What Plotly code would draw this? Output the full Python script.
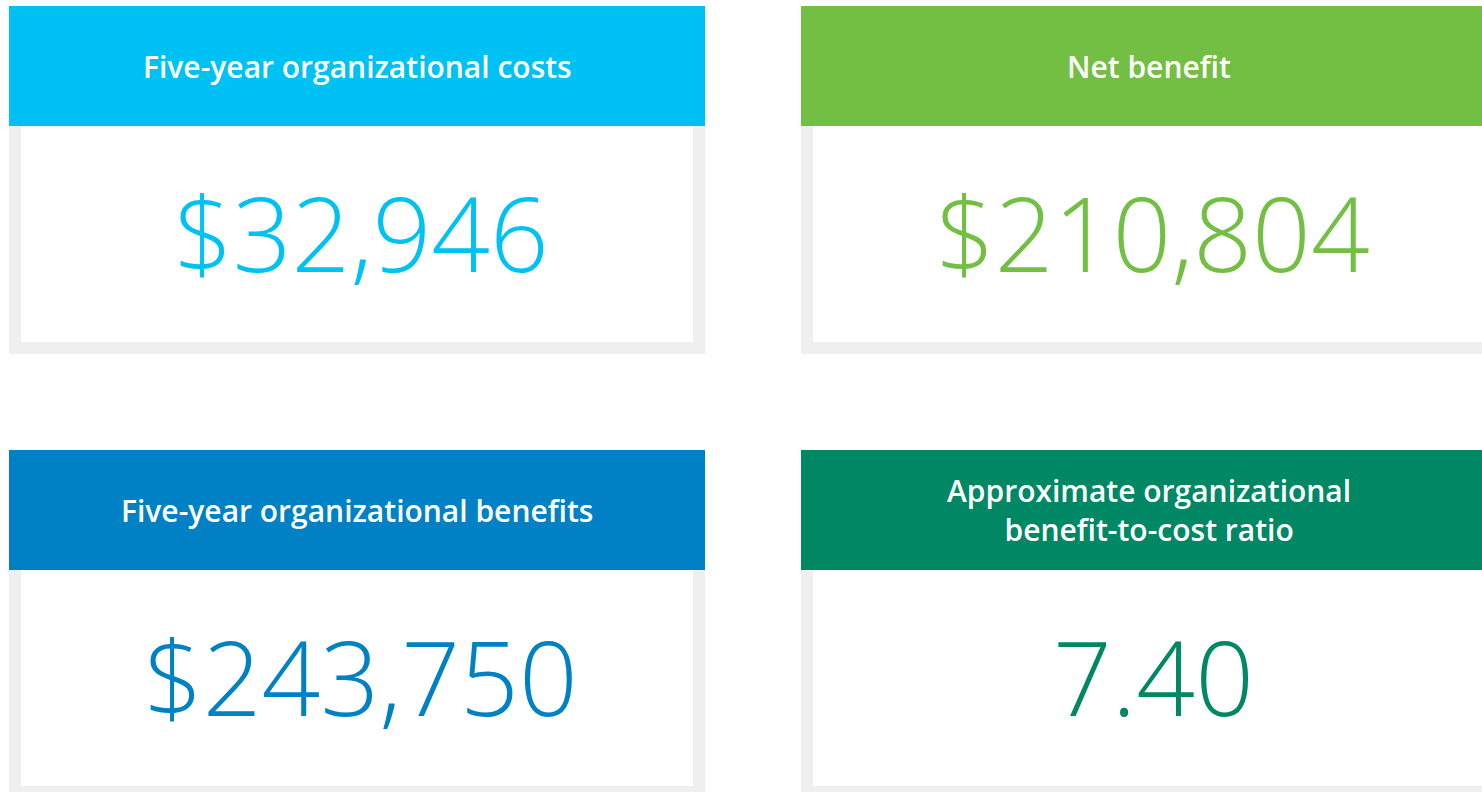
import plotly.graph_objects as go

# ---- data ----
titles = ["Five-year organizational costs", "Net benefit",
          "Five-year organizational benefits", "Approximate organizational<br>benefit-to-cost ratio"]
values = ["$32,946", "$210,804", "$243,750", "7.40"]
colors = ["#00C1F3", "#72BF44", "#0081C6", "#008865"]

W, H = 1482, 792
card_x = [9, 801, 9, 801]
card_y = [6, 6, 450, 450]
card_w, head_h, card_h, border = 696, 120, 348, 12
gray = "#EFEFEF"

fig = go.Figure()
shapes, annos = [], []
for i in range(4):
    x0, y0 = card_x[i], card_y[i]
    x1 = x0 + card_w
    yh = y0 + head_h
    yb = y0 + card_h
    shapes.append(dict(type="rect", x0=x0, x1=x1, y0=yh, y1=yb, fillcolor=gray, line_width=0, layer="below"))
    shapes.append(dict(type="rect", x0=x0 + border, x1=x1 - border, y0=yh, y1=yb - border,
                       fillcolor="white", line_width=0, layer="below"))
    shapes.append(dict(type="rect", x0=x0, x1=x1, y0=y0, y1=yh, fillcolor=colors[i], line_width=0, layer="below"))
    annos.append(dict(x=(x0 + x1) / 2, y=(y0 + yh) / 2, text=titles[i], showarrow=False,
                      xanchor="center", yanchor="middle", align="center",
                      font=dict(family="Open Sans", size=30, color="white", weight=600)))
    annos.append(dict(x=(x0 + x1) / 2 + 4, y=(yh + yb - border) / 2 - 2, text=values[i], showarrow=False,
                      xanchor="center", yanchor="middle",
                      font=dict(family="Open Sans", size=103, color=colors[i], weight=300)))

fig.update_layout(
    width=W, height=H, margin=dict(l=0, r=0, t=0, b=0),
    paper_bgcolor="white", plot_bgcolor="white",
    xaxis=dict(range=[0, W], visible=False, fixedrange=True),
    yaxis=dict(range=[H, 0], visible=False, fixedrange=True),
    shapes=shapes, annotations=annos, showlegend=False,
)
fig.write_html("out.html", config={"displayModeBar": False},
               post_script="document.body.style.margin='0';")
